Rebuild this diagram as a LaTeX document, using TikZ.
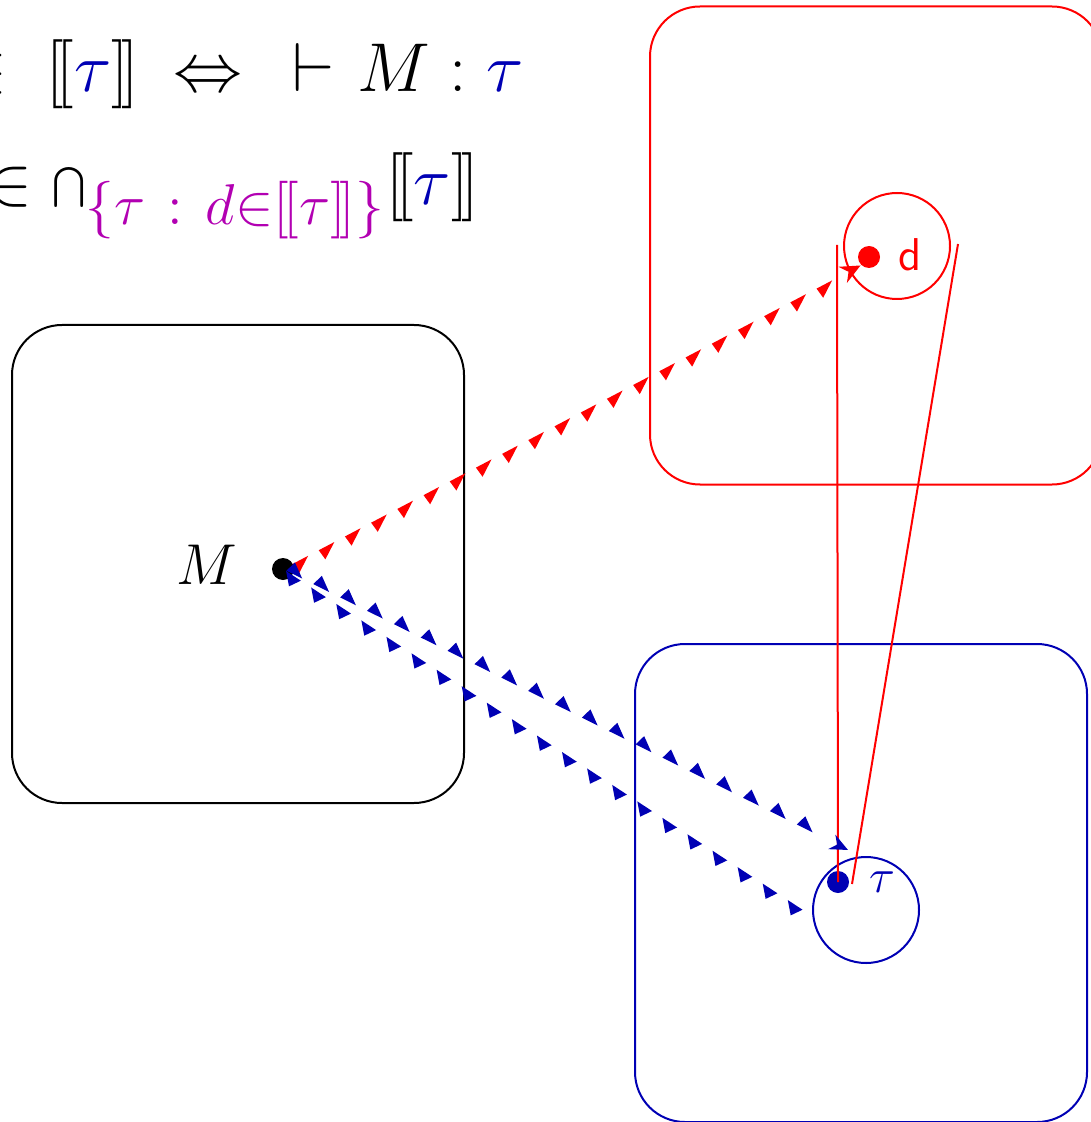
\documentclass[tikz,border=0pt]{standalone}
\usetikzlibrary{decorations.markings,arrows.meta}
\definecolor{tblue}{RGB}{0,0,180}
\definecolor{tmag}{RGB}{178,0,178}
\newcommand{\lsem}{\mathopen{\mathbf{[}\mkern-1.8mu\mathbf{[}}}
\newcommand{\rsem}{\mathclose{\mathbf{]}\mkern-1.8mu\mathbf{]}}}
\begin{document}
\begin{tikzpicture}[x=0.25pt,y=-0.25pt,line width=0.5pt,
  box/.style={draw,rounded corners=12.5pt,minimum width=113pt,minimum height=119.5pt,inner sep=0pt},
  dot/.style={circle,fill,inner sep=0pt,minimum size=5.5pt},
  ring/.style={circle,draw,inner sep=0pt,minimum size=26.5pt},
  redmarks/.style={decoration={markings,
     mark=between positions 0.03 and 0.96 step 7.4pt with {\fill[red] (-2.2pt,0pt)--(2.2pt,0pt)--(-1.8pt,-2.8pt)--cycle;},
     mark=at position 1 with {\arrow[red]{Stealth[length=5pt,width=4.5pt]}}},postaction=decorate},
  bluemarksA/.style={decoration={markings,
     mark=between positions 0.02 and 0.97 step 7.5pt with {\fill[tblue] (-2.2pt,0pt)--(2.2pt,0pt)--(-1.2pt,2.8pt)--cycle;},
     mark=at position 1 with {\arrow[tblue]{Stealth[length=4.5pt,width=4pt]}}},postaction=decorate},
  bluemarksB/.style={decoration={markings,
     mark=between positions 0.02 and 1 step 7.5pt with {\fill[tblue] (-2.2pt,0pt)--(2.2pt,0pt)--(0.5pt,-2.8pt)--cycle;}},postaction=decorate},
  bigtext/.style={font=\fontsize{16.5}{20}\selectfont}
]
\useasboundingbox (0,0) rectangle (1090,1122);

% boxes
\node[box] (boxM) at (238,564) {};
\node[box,red] (boxD) at (876,245.5) {};
\node[box,tblue] (boxT) at (861,883) {};

% rings
\node[ring,red] (dcirc) at (897,246) {};
\node[ring,tblue] (tcirc) at (866,910) {};

% dots
\node[dot,black] (Mdot) at (283,569) {};
\node[dot,red] (ddot) at (869,257) {};
\node[dot,tblue] (tdot) at (838,882) {};

% labels
\node[font=\fontsize{13.5}{16}\selectfont] (Mlab) at (207,565) {$M$};
\node[red,font=\sffamily\fontsize{11.5}{14}\selectfont] (dlab) at (910,255) {d};
\node[tblue,font=\fontsize{13}{15}\selectfont] (tlab) at (882,882) {$\tau$};

% formulas
\node[bigtext,anchor=base west,inner sep=0pt] (line1) at (-39,92)
  {$\mathord{\in}\mkern10mu\lsem{\color{tblue}\tau}\rsem\mkern9mu\mathord{\Leftrightarrow}\mkern13mu\mathord{\vdash}\mkern6mu M\mkern5mu\mathord{:}\mkern5mu{\color{tblue}\tau}$};
\node[bigtext,anchor=base west,inner sep=0pt] (line2) at (-14,205)
  {$\in\textstyle\bigcap_{\mbox{\fontsize{14}{16}\selectfont\color{tmag}$\{\tau\mkern2mu:\mkern2mu d{\in}\lsem\tau\rsem\}$}}\lsem{\color{tblue}\tau}\rsem$};

% red cone lines
\coordinate (rt1) at (837,245);
\coordinate (rt2) at (958,244);
\coordinate (rb2) at (852,884);
\draw[red] (rt1) -- (tdot.center);
\draw[red] (rt2) -- (rb2);

% marked connectors
\coordinate (tu) at (848,850);
\coordinate (tl) at (806,912);
\path[redmarks] (Mdot.center) -- (ddot.south west);
\path[bluemarksA] (Mdot.center) -- (tu);
\path[bluemarksB] (Mdot.center) -- (tl);
\end{tikzpicture}
\end{document}
